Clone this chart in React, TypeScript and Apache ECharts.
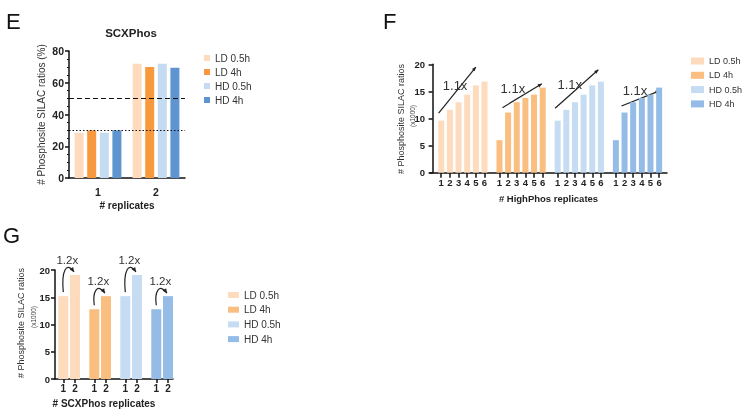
import React, { useEffect, useRef } from 'react';
import * as echarts from 'echarts';

const FONT = "'Liberation Sans', Arial, Helvetica, sans-serif";

// ---------- data ----------
const conditions = ['LD 0.5h', 'LD 4h', 'HD 0.5h', 'HD 4h'];

// Panel E: % phosphosite SILAC ratios per # replicates
const eCategories = ['1', '2'];
const eLD05 = [28.5, 72.0];
const eLD4 = [30.0, 70.0];
const eHD05 = [28.5, 72.0];
const eHD4 = [30.0, 69.5];
const eDashedLevel = 50;
const eDottedLevel = 30;

// Panel F: HighPhos replicates (x1000)
const fReplicates = ['1', '2', '3', '4', '5', '6'];
const fLD05 = [9.6, 11.6, 13.0, 14.4, 16.1, 16.8];
const fLD4 = [6.0, 11.1, 13.0, 13.8, 14.4, 15.7];
const fHD05 = [9.6, 11.6, 13.0, 14.4, 16.1, 16.8];
const fHD4 = [6.0, 11.1, 13.0, 13.8, 14.4, 15.7];
const fFold = ['1.1x', '1.1x', '1.1x', '1.1x'];

// Panel G: SCXPhos replicates (x1000)
const gReplicates = ['1', '2'];
const gLD05 = [15.2, 19.1];
const gLD4 = [12.8, 15.2];
const gHD05 = [15.2, 19.1];
const gHD4 = [12.8, 15.2];
const gFold = ['1.2x', '1.2x', '1.2x', '1.2x'];

// ---------- styles / layout ----------
const colorsE = ['#FDDBBC', '#F7993C', '#C5DBF1', '#5E95D1'];
const colorsFG = ['#FDDBBC', '#F9BE80', '#C6DCF2', '#94BCE6'];
const F_PITCH = 6.73; // group pitch in replicate units
const G_PITCH = 2.65;
// annotation arrows for F, in data space relative to group start
const fArrowLayout = [
  { from: [-0.3, 11.0], to: [4.0, 19.5], label: [1.6, 16.0] },
  { from: [0.35, 12.0], to: [4.9, 16.4], label: [1.55, 15.6] },
  { from: [-0.3, 11.9], to: [4.7, 19.0], label: [1.4, 16.2] },
  { from: [0.65, 12.3], to: [5.05, 15.1], label: [2.2, 15.2] },
];

const axisLineStyle = { color: '#111', width: 1.5 };

export default function App() {
  const ref = useRef<HTMLDivElement>(null);
  useEffect(() => {
    const chart = echarts.init(ref.current!, null, { renderer: 'svg' });
    const fSeriesData = [fLD05, fLD4, fHD05, fHD4];
    const gSeriesData = [gLD05, gLD4, gHD05, gHD4];
    const eSeriesData = [eLD05, eLD4, eHD05, eHD4];
    const fPos = (g: number, r: number) => g * F_PITCH + r + 1;
    const gPos = (g: number, r: number) => g * G_PITCH + r + 1;
    const fTicks: number[] = [];
    const fLabelMap: Record<string, string> = {};
    for (let g = 0; g < 4; g++) fReplicates.forEach((lab, r) => { const p = fPos(g, r); fTicks.push(p); fLabelMap[p.toFixed(3)] = lab; });
    const gTicks: number[] = [];
    const gLabelMap: Record<string, string> = {};
    for (let g = 0; g < 4; g++) gReplicates.forEach((lab, r) => { const p = gPos(g, r); gTicks.push(p); gLabelMap[p.toFixed(3)] = lab; });

    const tickLabel = (size: number, margin: number) => ({ fontFamily: FONT, fontSize: size, fontWeight: 'bold' as const, color: '#222', margin });

    const series: any[] = [];
    eSeriesData.forEach((vals, i) => {
      const s: any = {
        type: 'bar', name: conditions[i], xAxisIndex: 0, yAxisIndex: 0, data: vals,
        barWidth: 9, barGap: '40%', itemStyle: { color: colorsE[i] },
      };
      if (i === 3) {
        s.markLine = {
          silent: true, symbol: 'none', label: { show: false },
          data: [
            { yAxis: eDashedLevel, lineStyle: { type: [5, 3], color: '#111', width: 1.2 } },
            { yAxis: eDottedLevel, lineStyle: { type: [1.5, 2], color: '#111', width: 1.2 } },
          ],
        };
      }
      series.push(s);
    });
    fSeriesData.forEach((vals, g) => {
      series.push({
        type: 'bar', name: conditions[g], xAxisIndex: 1, yAxisIndex: 1,
        data: vals.map((v, r) => [fPos(g, r), v]), barWidth: 6, barGap: '-100%',
        itemStyle: { color: colorsFG[g] },
      });
    });
    gSeriesData.forEach((vals, g) => {
      series.push({
        type: 'bar', name: conditions[g], xAxisIndex: 2, yAxisIndex: 2,
        data: vals.map((v, r) => [gPos(g, r), v]), barWidth: 10, barGap: '-100%',
        itemStyle: { color: colorsFG[g] },
      });
    });

    const legend = (left: number, top: number, w: number, h: number, gap: number, colors: string[], fs: number) => ({
      orient: 'vertical', left, top, padding: 0, itemWidth: w, itemHeight: h, itemGap: gap,
      icon: 'rect', selectedMode: false,
      textStyle: { fontFamily: FONT, fontSize: fs, color: '#333', lineHeight: 12 },
      data: conditions.map((c, i) => ({ name: c, itemStyle: { color: colors[i] } })),
    });

    const option: any = {
      animation: false,
      grid: [
        { left: 69, top: 51, width: 116, height: 127 },
        { left: 430, top: 64.3, width: 237, height: 108.4 },
        { left: 55, top: 270, width: 118, height: 109 },
      ],
      legend: [
        legend(204, 52, 6, 6, 2, colorsE, 10),
        legend(691, 55, 13, 7, 2.3, colorsFG, 9),
        legend(228, 289, 11, 6, 2.7, colorsFG, 10),
      ],
      xAxis: [
        {
          type: 'category', gridIndex: 0, data: eCategories,
          axisLine: { lineStyle: axisLineStyle },
          axisTick: { alignWithLabel: true, length: 5, lineStyle: { color: '#111', width: 1.5 } },
          axisLabel: tickLabel(10.5, 8),
          name: '# replicates', nameLocation: 'middle', nameGap: 22,
          nameTextStyle: { fontFamily: FONT, fontSize: 10, fontWeight: 'bold', color: '#222' },
        },
        {
          type: 'value', gridIndex: 1, min: -0.3, max: 27.1, splitLine: { show: false },
          axisLine: { lineStyle: axisLineStyle },
          axisTick: { show: true, customValues: fTicks, length: 5, lineStyle: { color: '#111', width: 1.5 } },
          axisLabel: { ...tickLabel(9.5, 5), customValues: fTicks, formatter: (v: number) => fLabelMap[v.toFixed(3)] ?? '' },
          name: '# HighPhos replicates', nameLocation: 'middle', nameGap: 21,
          nameTextStyle: { fontFamily: FONT, fontSize: 9.5, fontWeight: 'bold', color: '#222' },
        },
        {
          type: 'value', gridIndex: 2, min: 0.29, max: 10.38, splitLine: { show: false },
          axisLine: { lineStyle: axisLineStyle },
          axisTick: { show: true, customValues: gTicks, length: 4, lineStyle: { color: '#111', width: 1.5 } },
          axisLabel: { ...tickLabel(10, 4), customValues: gTicks, formatter: (v: number) => gLabelMap[v.toFixed(3)] ?? '' },
        },
      ],
      yAxis: [
        {
          type: 'value', gridIndex: 0, min: 0, max: 80, interval: 20, splitLine: { show: false },
          axisLine: { show: true, lineStyle: axisLineStyle },
          axisTick: { show: true, length: 4, lineStyle: { color: '#111', width: 1.5 } },
          minorTick: { show: true, splitNumber: 4, length: 2, lineStyle: { color: '#111', width: 1 } },
          axisLabel: tickLabel(10.5, 5),
          name: '# Phosphosite SILAC ratios (%)', nameLocation: 'middle', nameGap: 23,
          nameTextStyle: { fontFamily: FONT, fontSize: 10, color: '#333' },
        },
        {
          type: 'value', gridIndex: 1, min: 0, max: 20, interval: 5, splitLine: { show: false },
          axisLine: { show: true, lineStyle: axisLineStyle },
          axisTick: { show: true, length: 4, lineStyle: { color: '#111', width: 1.5 } },
          axisLabel: tickLabel(9.5, 5),
        },
        {
          type: 'value', gridIndex: 2, min: 0, max: 20, interval: 5, splitLine: { show: false },
          axisLine: { show: true, lineStyle: axisLineStyle },
          axisTick: { show: true, length: 4, lineStyle: { color: '#111', width: 1.5 } },
          axisLabel: tickLabel(9.5, 5),
        },
      ],
      series,
    };
    chart.setOption(option);

    const gfx: any[] = [];
    const text = (x: number, y: number, t: string, size: number, extra: any = {}) => ({
      type: 'text', x, y, rotation: extra.rotation ?? 0,
      style: { text: t, fontFamily: FONT, fontSize: size, fontWeight: extra.bold ? 'bold' : 'normal', fill: extra.fill ?? '#222', textAlign: extra.align ?? 'center', textVerticalAlign: 'middle' },
    });
    gfx.push(text(6, 21, 'E', 22, { align: 'left', fill: '#111' }));
    gfx.push(text(383, 21, 'F', 22, { align: 'left', fill: '#111' }));
    gfx.push(text(3, 235, 'G', 22, { align: 'left', fill: '#111' }));
    gfx.push(text(131, 33, 'SCXPhos', 11.5, { bold: true }));
    gfx.push(text(400.5, 119, '# Phosphosite SILAC ratios', 9, { rotation: Math.PI / 2, fill: '#333' }));
    gfx.push(text(412.5, 116, '(x1000)', 6.5, { rotation: Math.PI / 2, fill: '#444' }));
    gfx.push(text(20.5, 323, '# Phosphosite SILAC ratios', 9, { rotation: Math.PI / 2, fill: '#333' }));
    gfx.push(text(33, 317, '(x1000)', 6.5, { rotation: Math.PI / 2, fill: '#444' }));
    gfx.push(text(104, 403, '# SCXPhos replicates', 10, { bold: true }));

    const head = (tip: number[], from: number[], len = 5, half = 2.3) => {
      const dx = tip[0] - from[0], dy = tip[1] - from[1];
      const d = Math.hypot(dx, dy) || 1;
      const ux = dx / d, uy = dy / d;
      const bx = tip[0] - ux * len, by = tip[1] - uy * len;
      return { type: 'polygon', shape: { points: [[tip[0], tip[1]], [bx - uy * half, by + ux * half], [bx + uy * half, by - ux * half]] }, style: { fill: '#222' } };
    };

    fArrowLayout.forEach((a, g) => {
      const base = g * F_PITCH + 1;
      const p0 = chart.convertToPixel({ gridIndex: 1 }, [base + a.from[0], a.from[1]]) as number[];
      const p1 = chart.convertToPixel({ gridIndex: 1 }, [base + a.to[0], a.to[1]]) as number[];
      const pl = chart.convertToPixel({ gridIndex: 1 }, [base + a.label[0], a.label[1]]) as number[];
      gfx.push({ type: 'line', shape: { x1: p0[0], y1: p0[1], x2: p1[0], y2: p1[1] }, style: { stroke: '#222', lineWidth: 1.2 } });
      gfx.push(head(p1, p0, 4, 1.8));
      gfx.push(text(pl[0], pl[1], fFold[g], 13, { fill: '#333' }));
    });

    gSeriesData.forEach((vals, g) => {
      const p1 = chart.convertToPixel({ gridIndex: 2 }, [gPos(g, 0), vals[0]]) as number[];
      const p2 = chart.convertToPixel({ gridIndex: 2 }, [gPos(g, 1), vals[1]]) as number[];
      const s = [p1[0], p1[1] - 4];
      const c1 = [p1[0] - 2, p2[1] - 4];
      const c2 = [p1[0] + 3, p2[1] - 14];
      const e = [p2[0] - 1, p2[1] - 3];
      gfx.push({ type: 'bezierCurve', shape: { x1: s[0], y1: s[1], cpx1: c1[0], cpy1: c1[1], cpx2: c2[0], cpy2: c2[1], x2: e[0], y2: e[1] }, style: { stroke: '#222', lineWidth: 1.2, fill: 'none' } });
      gfx.push(head(e, c2, 4.5, 2.2));
      gfx.push(text(p1[0] + 4, p2[1] - 15, gFold[g], 11.5, { fill: '#333' }));
    });

    chart.setOption({ graphic: gfx });
    return () => chart.dispose();
  }, []);
  return <div ref={ref} style={{ position: 'fixed', left: 0, top: 0, width: 743, height: 411 }} />;
}
